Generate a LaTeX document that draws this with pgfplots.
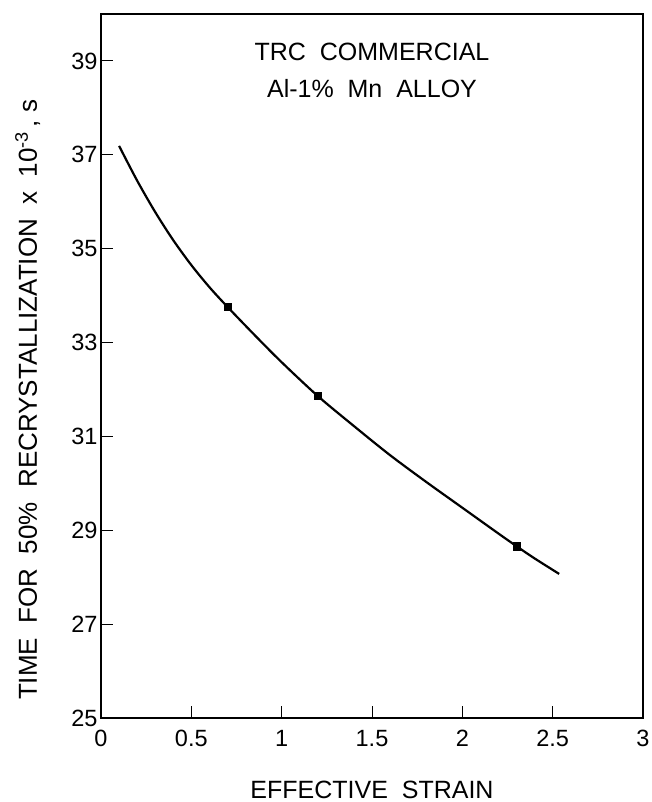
\documentclass[border=0pt]{standalone}
\usepackage{pgfplots}
\pgfplotsset{compat=1.18}
\usepackage{fontspec}
\setmainfont{Liberation Sans}
\begin{document}
\begin{tikzpicture}
\path[use as bounding box] (-101pt,-84pt) rectangle (551pt,718pt);
\begin{axis}[
  at={(0pt,0pt)}, anchor=south west,
  scale only axis, width=542pt, height=704pt,
  xmin=0, xmax=3, ymin=25, ymax=40,
  xtick={0,0.5,1,1.5,2,2.5,3},
  xticklabels={0,0.5,1,1.5,2,2.5,3},
  ytick={25,27,29,31,33,35,37,39},
  tick align=inside, major tick length=12pt,
  xtick pos=bottom, ytick pos=left,
  axis line style={line width=1.7pt},
  every tick/.style={black, line width=1pt},
  tick label style={font=\fontsize{23.5}{28}\selectfont},
  /pgf/number format/assume math mode=true,
  xticklabel style={yshift=-9pt},
  xlabel={EFFECTIVE\ \ STRAIN},
  xlabel style={at={(axis description cs:0.5,0)}, anchor=base, yshift=-80pt, font=\fontsize{25}{30}\selectfont},
  ylabel={TIME\ \ FOR\ \ 50\%\ \ RECRYSTALLIZATION\ \ x\ \ 10\textsuperscript{-3}\,, s},
  ylabel style={at={([xshift=-64pt]axis description cs:0,0.452)}, rotate=0, anchor=base, font=\fontsize{26}{30}\selectfont},
]
\addplot[black, line width=2.2pt, smooth, tension=0.5] coordinates {
(0.1,37.19) (0.2,36.45) (0.3,35.78) (0.4,35.18) (0.5,34.65) (0.6,34.18)
(0.7,33.76) (0.85,33.16) (1.0,32.58) (1.2,31.86) (1.4,31.22) (1.6,30.60)
(1.8,30.03) (2.0,29.48) (2.2,28.93) (2.3,28.66) (2.4,28.40) (2.536,28.07)
};
\addplot[only marks, mark=square*, mark size=3.6pt, mark options={black, line width=0.4pt}] coordinates {
(0.7,33.76) (1.2,31.86) (2.3,28.66)
};
\node[anchor=base, font=\fontsize{25}{30}\selectfont] at (axis cs:1.5,39.0) {TRC\ \ COMMERCIAL};
\node[anchor=base, font=\fontsize{25}{30}\selectfont] at (axis cs:1.5,38.23) {Al-1\%\ \ Mn\ \ ALLOY};
\end{axis}
\end{tikzpicture}
\end{document}
